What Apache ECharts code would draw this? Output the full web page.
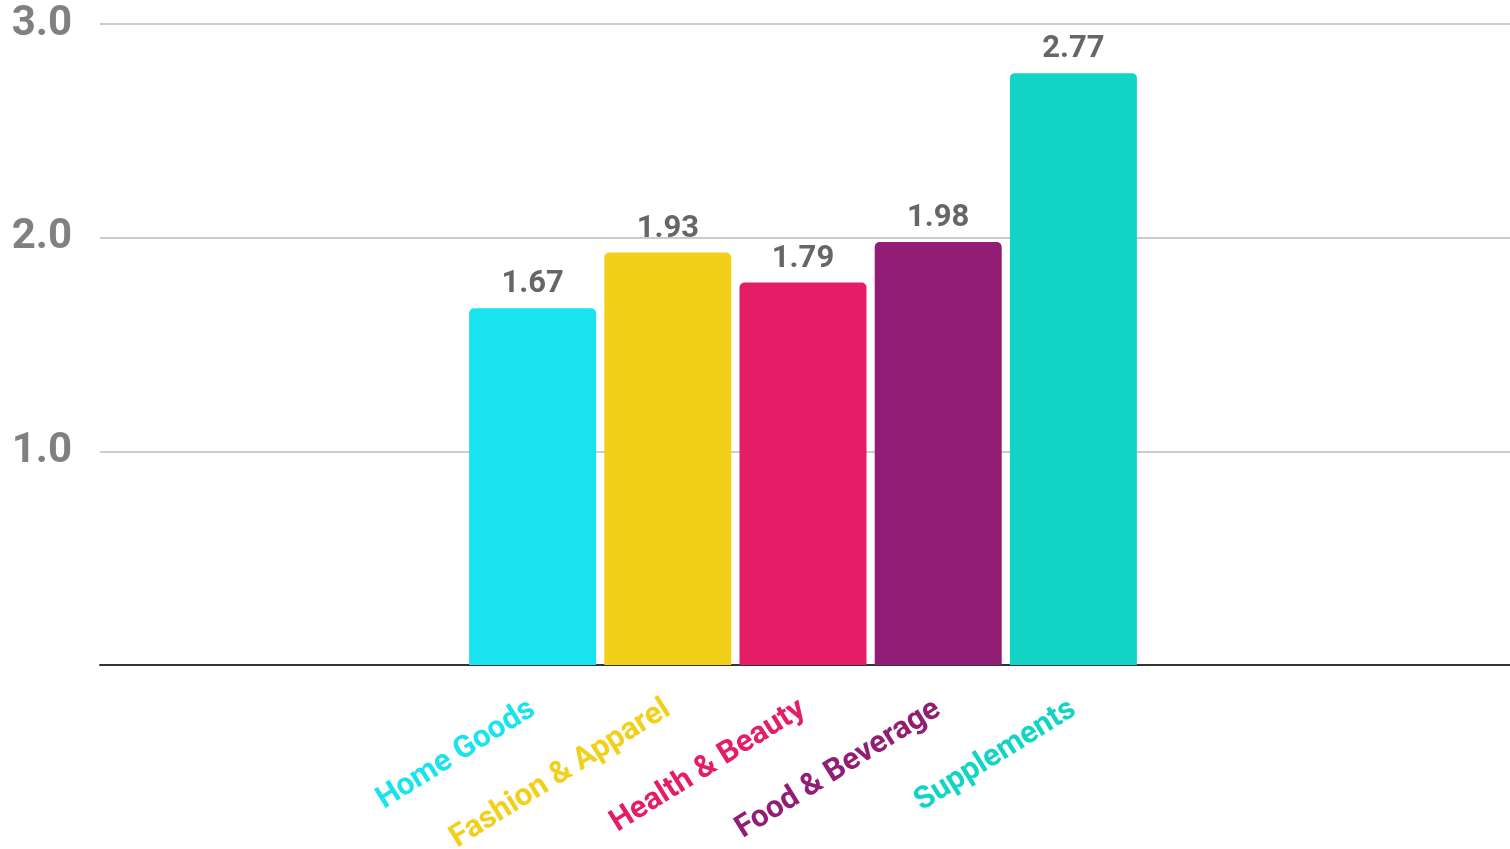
<!DOCTYPE html>
<html>
<head>
<meta charset="utf-8">
<script src="https://cdn.jsdelivr.net/npm/echarts@6/dist/echarts.min.js"></script>
<style>
html,body{margin:0;padding:0;background:#fff;}
#chart{width:1510px;height:849px;}
</style>
</head>
<body>
<div id="chart"></div>
<script>
const categories = ["Home Goods", "Fashion & Apparel", "Health & Beauty", "Food & Beverage", "Supplements"];
const values = [1.67, 1.93, 1.79, 1.98, 2.77];
const colors = ["#19E3EE", "#F2D01A", "#E51C66", "#921D75", "#12D4C6"];
const yTicks = [0, 1, 2, 3];

const chart = echarts.init(document.getElementById('chart'));
chart.setOption({
  backgroundColor: '#ffffff',
  animation: false,
  grid: [
    {left: 100, right: 0, top: 24, bottom: 184, containLabel: false, outerBoundsMode: 'none'},
    {left: 465, width: 676, top: 24, bottom: 184, containLabel: false, outerBoundsMode: 'none'}
  ],
  xAxis: [
    {gridIndex: 0, type: 'value', min: 0, max: 1,
     axisLine: {show: true, onZero: false, lineStyle: {color: '#333333', width: 2}},
     axisTick: {show: false}, axisLabel: {show: false}, splitLine: {show: false}},
    {gridIndex: 1, type: 'category', data: categories,
     axisLine: {show: false}, axisTick: {show: false},
     axisLabel: {
       interval: 0, rotate: 32, margin: 42,
       fontFamily: 'Roboto', fontWeight: 'bold', fontSize: 31,
       color: function (value, index) { return colors[categories.indexOf(value)]; }
     }}
  ],
  yAxis: [
    {gridIndex: 0, type: 'value', min: yTicks[0], max: yTicks[yTicks.length - 1], interval: 1,
     axisLine: {show: false}, axisTick: {show: false},
     axisLabel: {showMinLabel: false, margin: 28, fontFamily: 'Roboto', fontWeight: 'bold',
                 fontSize: 42, color: '#808080', formatter: v => v.toFixed(1)},
     splitLine: {show: true, lineStyle: {color: '#cccccc', width: 2}}},
    {gridIndex: 1, type: 'value', min: 0, max: 3, show: false}
  ],
  series: [{
    type: 'bar', xAxisIndex: 1, yAxisIndex: 1,
    data: values.map((v, i) => ({value: v, itemStyle: {color: colors[i]}})),
    barWidth: 127,
    itemStyle: {borderRadius: [5, 5, 0, 0]},
    label: {show: true, position: 'top', distance: 8, fontFamily: 'Roboto',
            fontWeight: 'bold', fontSize: 31, color: '#666666',
            formatter: p => p.value.toFixed(2)}
  }]
});
</script>
</body>
</html>
